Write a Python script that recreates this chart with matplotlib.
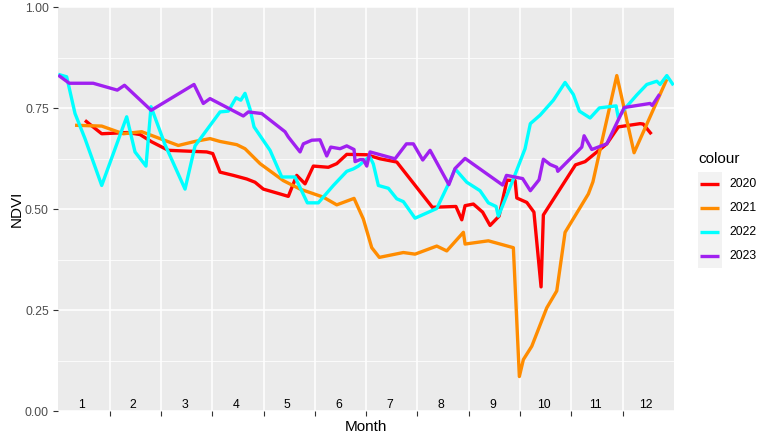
import matplotlib
matplotlib.use("Agg")
import matplotlib.pyplot as plt
from matplotlib.lines import Line2D

plt.rcParams['font.family'] = ['Liberation Sans', 'DejaVu Sans']

# x is position in months: 0 = start of January, 12 = end of December
x2020 = [0.52, 0.846, 1.345, 1.593, 1.82, 2.144, 2.893, 3.01, 3.152, 3.411, 3.673, 3.834, 3.996,
         4.322, 4.483, 4.647, 4.809, 4.971, 5.263, 5.427, 5.622, 6.012, 6.271, 6.597, 7.29,
         7.75, 7.864, 7.928, 8.09, 8.27, 8.415, 8.59, 8.745, 8.903, 8.936, 9.131, 9.27, 9.409,
         9.454, 10.08, 10.267, 10.69, 10.916, 11.339, 11.4, 11.56]
y2020 = [0.720, 0.687, 0.690, 0.685, 0.667, 0.646, 0.642, 0.638, 0.592, 0.584, 0.575, 0.567, 0.550,
         0.538, 0.532, 0.584, 0.563, 0.607, 0.604, 0.613, 0.636, 0.635, 0.625, 0.617, 0.505,
         0.507, 0.474, 0.509, 0.513, 0.493, 0.460, 0.483, 0.572, 0.571, 0.528, 0.517, 0.493, 0.308,
         0.486, 0.610, 0.618, 0.662, 0.704, 0.712, 0.711, 0.686]

x2021 = [0.326, 0.846, 1.267, 1.626, 1.982, 2.339, 2.665, 2.957, 3.15, 3.478, 3.639, 3.932, 4.386,
         4.712, 5.166, 5.427, 5.764, 5.945, 6.109, 6.257, 6.725, 6.953, 7.376, 7.571, 7.895,
         7.928, 8.382, 8.869, 8.986, 9.064, 9.228, 9.520, 9.715, 9.877, 10.331, 10.42, 10.593,
         10.885, 11.222, 11.86]
y2021 = [0.708, 0.706, 0.687, 0.692, 0.675, 0.658, 0.668, 0.675, 0.668, 0.660, 0.650, 0.613, 0.571,
         0.550, 0.530, 0.511, 0.527, 0.476, 0.405, 0.381, 0.393, 0.389, 0.409, 0.397, 0.443,
         0.414, 0.422, 0.405, 0.086, 0.128, 0.161, 0.256, 0.298, 0.443, 0.538, 0.568, 0.667,
         0.831, 0.640, 0.822]

x2022 = [0.0, 0.163, 0.326, 0.520, 0.846, 1.333, 1.495, 1.709, 1.807, 2.080, 2.470, 2.665, 3.152,
         3.314, 3.464, 3.556, 3.639, 3.737, 3.815, 4.127, 4.355, 4.614, 4.854, 5.068, 5.361,
         5.622, 5.750, 5.848, 6.012, 6.076, 6.14, 6.238, 6.433, 6.597, 6.725, 6.953, 7.376,
         7.635, 7.733, 7.961, 8.220, 8.382, 8.532, 8.577, 8.869, 9.097, 9.2, 9.39, 9.649, 9.877,
         10.039, 10.156, 10.365, 10.546, 10.871, 10.916, 11.014, 11.275, 11.470, 11.665, 11.729,
         11.860, 11.99]
y2022 = [0.834, 0.828, 0.737, 0.675, 0.559, 0.729, 0.642, 0.607, 0.754, 0.660, 0.550, 0.657, 0.741,
         0.743, 0.776, 0.770, 0.787, 0.748, 0.704, 0.646, 0.580, 0.580, 0.516, 0.516, 0.559,
         0.594, 0.600, 0.607, 0.625, 0.629, 0.612, 0.559, 0.552, 0.526, 0.519, 0.478, 0.502,
         0.571, 0.600, 0.567, 0.546, 0.516, 0.507, 0.483, 0.575, 0.650, 0.712, 0.733, 0.770, 0.814,
         0.784, 0.743, 0.726, 0.751, 0.756, 0.726, 0.745, 0.783, 0.809, 0.817, 0.809,
         0.831, 0.807]

x2023 = [0.0, 0.214, 0.68, 1.15, 1.29, 1.81, 2.645, 2.826, 2.957, 3.606, 3.704, 3.965, 4.419,
         4.483, 4.712, 4.776, 4.94, 5.101, 5.232, 5.31, 5.491, 5.622, 5.764, 5.784, 5.881, 5.945,
         6.012, 6.076, 6.563, 6.785, 6.92, 7.103, 7.246, 7.612, 7.733, 7.928, 8.66, 8.735, 9.05,
         9.2, 9.37, 9.454, 9.585, 9.715, 9.735, 10.203, 10.248, 10.398, 10.690, 11.03, 11.534,
         11.575, 11.72]
y2023 = [0.832, 0.812, 0.812, 0.795, 0.807, 0.745, 0.809, 0.762, 0.774, 0.731, 0.741, 0.737, 0.692,
         0.679, 0.642, 0.662, 0.671, 0.672, 0.632, 0.654, 0.650, 0.657, 0.648, 0.618, 0.623, 0.623,
         0.607, 0.642, 0.625, 0.662, 0.662, 0.622, 0.646, 0.561, 0.601, 0.626, 0.560, 0.584, 0.576,
         0.546, 0.573, 0.624, 0.611, 0.604, 0.594, 0.654, 0.682, 0.648, 0.662, 0.752, 0.762,
         0.757, 0.785]

years = ['2020', '2021', '2022', '2023']
colors = ['#FF0000', '#FF8C00', '#00FFFF', '#A020F0']
series_x = [x2020, x2021, x2022, x2023]
series_y = [y2020, y2021, y2022, y2023]

month_labels = [str(m) for m in range(1, 13)]
month_label_pos = [m - 0.54 for m in range(1, 13)]
month_bounds = list(range(1, 12))
y_ticks = [0.0, 0.25, 0.5, 0.75, 1.0]
y_minor = [0.125, 0.375, 0.625, 0.875]

W, H = 773, 442
fig = plt.figure(figsize=(W / 100, H / 100), dpi=100)
ax = fig.add_axes([58.3 / W, 1 - 411.3 / H, 615.7 / W, 404 / H])
ax.set_facecolor('#EBEBEB')
for s in ax.spines.values():
    s.set_visible(False)

ax.set_xlim(0, 12)
ax.set_ylim(0, 1)

for v in y_minor:
    ax.axhline(v, color='white', lw=0.55, zorder=0.5)
for v in y_ticks:
    ax.axhline(v, color='white', lw=1.1, zorder=0.6)
for v in month_bounds:
    ax.axvline(v, color='white', lw=1.1, zorder=0.6)

for xs, ys, c in zip(series_x, series_y, colors):
    ax.plot(xs, ys, color=c, lw=2.4, solid_joinstyle='round', solid_capstyle='butt', zorder=2)

for p, lab in zip(month_label_pos, month_labels):
    ax.text(p, 0.016, lab, ha='center', va='center', fontsize=8.8, color='black', zorder=3)

ax.set_xticks(month_bounds)
ax.set_xticklabels([''] * len(month_bounds))
ax.set_yticks(y_ticks)
ax.set_yticklabels(['%.2f' % v for v in y_ticks])
ax.tick_params(axis='both', length=3.8, width=0.8, color='#333333',
               labelsize=8.8, labelcolor='#4D4D4D', pad=3.0)

ax.set_xlabel('Month', fontsize=11, color='black', va='center')
ax.xaxis.set_label_coords(0.5, (411.3 - 426.7) / 404)
ax.set_ylabel('NDVI', fontsize=11, color='black', va='center')
ax.yaxis.set_label_coords((16.5 - 58.3) / 615.7, 0.5)

# legend
lax = fig.add_axes([698.3 / W, 1 - 267.7 / H, 23.4 / W, 96 / H])
lax.set_facecolor('#F2F2F2')
for s in lax.spines.values():
    s.set_visible(False)
lax.set_xticks([])
lax.set_yticks([])
lax.set_xlim(0, 1)
lax.set_ylim(0, 4)
for i, (yr, c) in enumerate(zip(years, colors)):
    yc = 3.5 - i
    lax.add_line(Line2D([0.07, 0.9], [yc, yc], color=c, lw=2.4, solid_capstyle='butt'))
    lax.text(1.32, yc, yr, ha='left', va='center', fontsize=8.8, color='black', clip_on=False)
fig.text(698 / W, 1 - 159 / H, 'colour', ha='left', va='center', fontsize=11, color='black')

fig.savefig('out.png', dpi=100)
